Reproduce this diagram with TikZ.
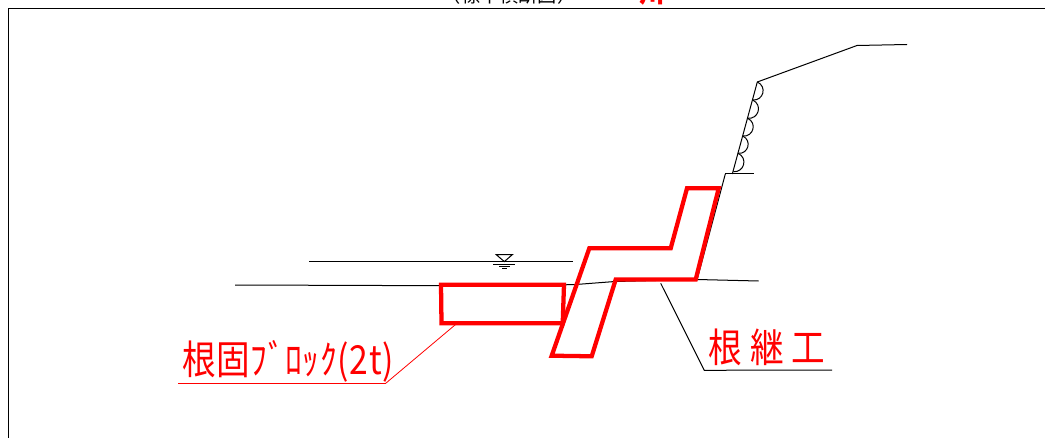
\documentclass[tikz,border=0pt]{standalone}
\usepackage{fontspec}
\usepackage{xcolor}
\usetikzlibrary{calc}
\newfontfamily\jpfont{Noto Sans CJK JP}
\definecolor{markred}{RGB}{255,0,0}
\tikzset{
    thinline/.style={line width=0.75pt, black},
    redline/.style={line width=3.2pt, markred, line join=miter},
    leadline/.style={line width=0.6pt, markred},
    redlabel/.style={inner sep=0pt, markred, font=\jpfont\fontsize{30}{30}\selectfont},
}
\begin{document}
\begin{tikzpicture}[x=0.75pt, y=-0.75pt]
    \useasboundingbox (0, 0) rectangle (1045, 438);
    % frame
    \draw [thinline] (1045, 8.5) -- (8, 8.5) -- (8, 438);
    % title, cut by the top edge
    \node (title) at (509, -4.5) [inner sep=0pt, font=\jpfont\fontsize{14.4}{14.4}\selectfont] {（標準横断図）};
    \node (mark) at (652, -7) [inner sep=0pt, markred, font=\jpfont\bfseries\fontsize{19.5}{19.5}\selectfont] {川};
    % slope
    \draw [thinline] (907, 44.5) -- (857, 45.5) -- (757.3, 82) -- (732.3, 174);
    \draw [thinline] (725.3, 174) -- (754, 174);
    \draw [thinline] (725.3, 174) -- (697, 280);
    % slope protection
    \foreach \a/\b/\c/\d in {757.3/82/752.7/100, 752.7/100/747.7/118.3, 747.7/118.3/742.7/136, 742.7/136/738/153.3, 738/153.3/733.3/171.7}
        \draw [thinline] (\a, \b) to [bend left=80, looseness=1.5] (\c, \d);
    % water level
    \draw [thinline] (309, 261.6) -- (573, 261.6);
    \draw [thinline, fill=white] (496.3, 254.7) -- (512.3, 254.7) -- (504.3, 261.6) -- cycle;
    \draw [thinline] (493.3, 264.7) -- (515, 264.7);
    \draw [thinline] (499, 266.7) -- (510, 266.7);
    \draw [thinline] (502.3, 268.3) -- (506.7, 268.3);
    % river bed
    \draw [thinline] (235, 285) -- (441, 285.7) -- (573.3, 284.7) -- (615, 281.5) -- (697, 279.5) -- (758.5, 281);
    % block
    \draw [redline] (441, 284.7) -- (564, 284.7) -- (562.7, 323.3) -- (441.5, 323.3) -- cycle;
    % foot protection
    \draw [redline] (687, 188.3) -- (718.7, 188.3) -- (695.7, 279.5) -- (615.7, 279.5) -- (591.7, 356.3) -- (551.7, 355.7) -- (589.3, 248.3) -- (670.7, 248.3) -- cycle;
    % labels
    \coordinate (blockfoot) at (457, 323.3);
    \coordinate (blockknee) at (385.5, 383.5);
    \coordinate (blockend) at (178, 383.5);
    \draw [leadline] (blockfoot) -- (blockknee) -- (blockend);
    \node (blocklabel) at (288, 361) [redlabel, xscale=0.84] {\addfontfeature{LetterSpace=2}根固ﾌﾞﾛｯｸ(2t)};
    \coordinate (footbed) at (660.7, 283.3);
    \coordinate (footknee) at (704.3, 370.3);
    \coordinate (footend) at (832, 370);
    \draw [thinline] (footbed) -- (footknee) -- (footend);
    \node (footlabel) at (767, 347.5) [redlabel, xscale=0.84] {\addfontfeature{LetterSpace=23}根継工};
\end{tikzpicture}
\end{document}
